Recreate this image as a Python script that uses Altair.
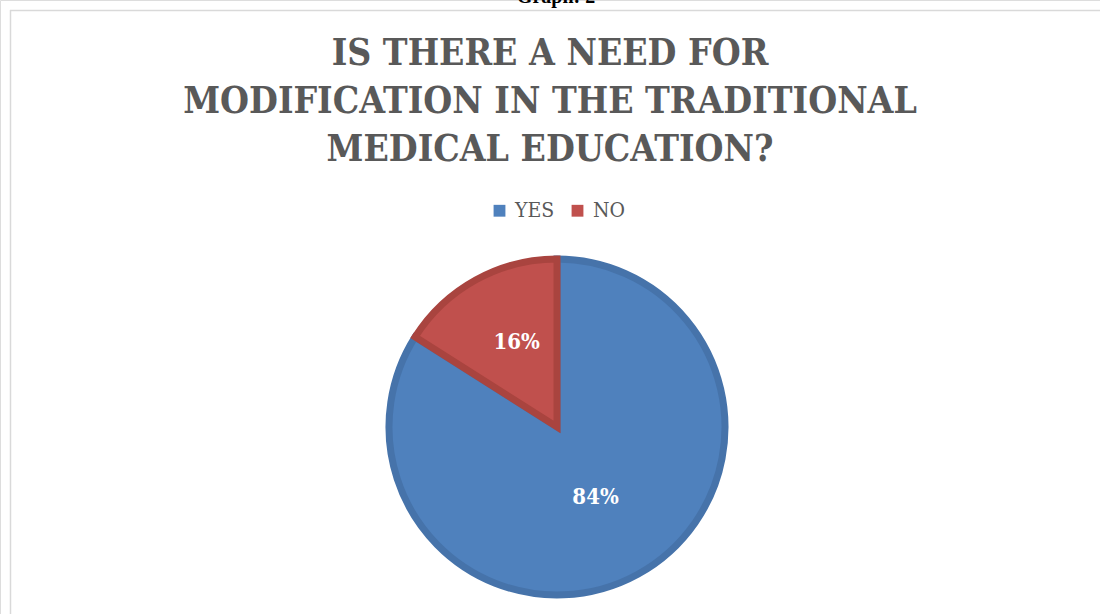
import altair as alt
import pandas as pd

categories = ["YES", "NO"]
values = [84, 16]
labels = ["84%", "16%"]
fill_colors = ["#4F81BD", "#C0504D"]
edge_colors = ["#4673AA", "#A9443F"]
title_lines = ["IS THERE A NEED FOR", "MODIFICATION IN THE TRADITIONAL", "MEDICAL EDUCATION?"]
caption = ["Graph: 2"]

df = pd.DataFrame({"answer": categories, "value": values, "label": labels, "order": [0, 1]})

CX, CY = 557, 427
SERIF = "'DejaVu Serif Condensed', 'DejaVu Serif', serif"

base = alt.Chart(df).encode(
    theta=alt.Theta("value:Q", stack=True),
    order=alt.Order("order:Q"),
)

pie = base.mark_arc(outerRadius=168, strokeWidth=7).encode(
    x=alt.value(CX),
    y=alt.value(CY),
    color=alt.Color(
        "answer:N",
        scale=alt.Scale(domain=categories, range=fill_colors),
        sort=categories,
        legend=alt.Legend(
            title=None,
            orient="none",
            legendX=489,
            legendY=200,
            direction="horizontal",
            symbolType="square",
            symbolSize=140,
            symbolStrokeWidth=0,
            labelFont=SERIF,
            labelFontSize=21,
            labelColor="#595959",
            columnPadding=12,
            labelOffset=5,
        ),
    ),
    stroke=alt.Stroke("answer:N", scale=alt.Scale(domain=categories, range=edge_colors), legend=None),
)

lab_yes = base.mark_text(
    radius=80, font=SERIF, fontSize=22, fontWeight="bold", color="white"
).encode(
    x=alt.value(CX), y=alt.value(CY),
    text=alt.condition(alt.datum.answer == "YES", "label:N", alt.value("")),
)

lab_no = base.mark_text(
    radius=94, font=SERIF, fontSize=22, fontWeight="bold", color="white", dx=5, dy=-3
).encode(
    x=alt.value(CX), y=alt.value(CY),
    text=alt.condition(alt.datum.answer == "NO", "label:N", alt.value("")),
)

cap = alt.Chart(pd.DataFrame({"t": caption})).mark_text(
    font="Liberation Serif", fontSize=20, fontWeight="bold", color="black", baseline="alphabetic"
).encode(x=alt.value(556), y=alt.value(3), text="t:N")

border_top = alt.Chart(pd.DataFrame({"a": [0]})).mark_rule(color="#D9D9D9", strokeWidth=1.5).encode(
    x=alt.value(10), x2=alt.value(1100), y=alt.value(10.5)
)
border_left = alt.Chart(pd.DataFrame({"a": [0]})).mark_rule(color="#D9D9D9", strokeWidth=1.5).encode(
    x=alt.value(10.5), y=alt.value(10), y2=alt.value(614)
)

chart = alt.layer(border_top, border_left, cap, pie, lab_yes, lab_no).properties(
    width=1100,
    height=614,
    padding=0,
    autosize=alt.AutoSizeParams(type="none"),
    title=alt.Title(
        text=title_lines,
        font=SERIF,
        fontSize=37,
        fontWeight="bold",
        color="#595959",
        anchor="middle",
        lineHeight=48,
        baseline="top",
        dy=186,
    ),
).configure_view(stroke=None).configure(background="white")

chart.save("out.html", embed_options={"renderer": "svg", "actions": False})
